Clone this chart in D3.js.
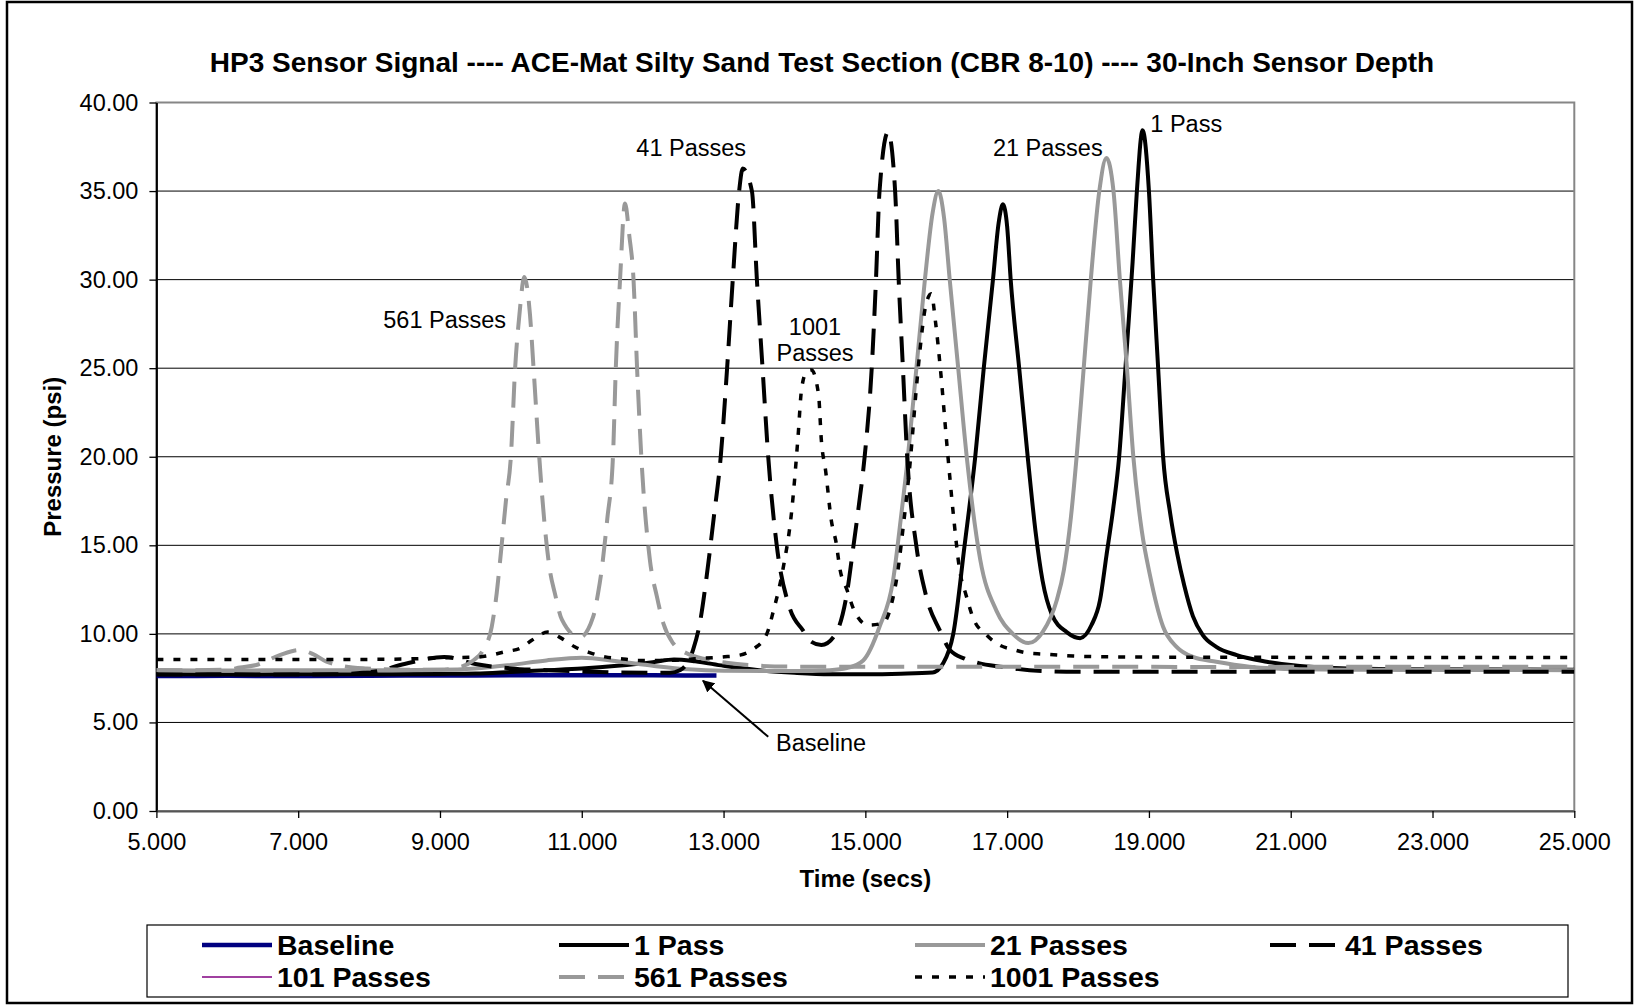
<!DOCTYPE html>
<html>
<head>
<meta charset="utf-8">
<script src="https://cdn.jsdelivr.net/npm/d3@7"></script>
<style>
  html, body { margin: 0; padding: 0; background: #fff; }
  svg { display: block; font-family: "Liberation Sans", Arial, sans-serif; }
</style>
</head>
<body>
<svg id="chart" width="1635" height="1006"></svg>
<script>
// ---------------- DATA ----------------
const chartTitle = "HP3 Sensor Signal ---- ACE-Mat Silty Sand Test Section (CBR 8-10) ---- 30-Inch Sensor Depth";
const xTitle = "Time (secs)";
const yTitle = "Pressure (psi)";
const xTicks = [5, 7, 9, 11, 13, 15, 17, 19, 21, 23, 25];
const yTicks = [0, 5, 10, 15, 20, 25, 30, 35, 40];

// [time (s), pressure (psi)]
const baseline = [[5,7.62],[6,7.63],[7,7.62],[8,7.64],[9,7.65],[10,7.66],[11,7.67],[12,7.66],[12.9,7.65]];

const pass1 = [[5,7.72],[6,7.7],[7,7.72],[8,7.72],[9,7.74],[9.5,7.76],[10,7.85],[10.5,7.95],[11,8.05],[11.5,8.2],
  [12,8.4],[12.3,8.55],[12.6,8.45],[13,8.2],[13.5,7.95],[14,7.8],[14.5,7.72],[15,7.72],[15.5,7.75],[15.95,7.82],
  [16.1,8.35],[16.24,10],[16.4,15],[16.55,20],[16.67,25],[16.8,30],[16.88,33.2],[16.94,34.25],[17.0,33.0],[17.05,30],
  [17.17,25],[17.29,20],[17.4,15.8],[17.5,13.0],[17.63,11.1],[17.84,10.1],[18.03,9.76],[18.19,10.5],[18.31,11.9],
  [18.4,14.4],[18.5,17.2],[18.58,20],[18.66,24.5],[18.72,28],[18.77,31],[18.83,35],[18.91,38.43],[19.0,35],
  [19.06,30],[19.13,25],[19.2,20],[19.3,16.8],[19.4,14.5],[19.5,12.7],[19.62,11],[19.76,9.93],[19.95,9.27],
  [20.24,8.8],[20.66,8.43],[21.13,8.18],[21.6,8.07],[22.5,8.0],[25,7.98]];

const pass21 = [[5,7.95],[6,7.93],[7,7.95],[8,7.95],[9,7.97],[9.5,8.05],[10,8.25],[10.5,8.5],[11,8.65],[11.5,8.45],
  [12,8.2],[12.5,8.0],[13,7.92],[14,7.9],[14.5,7.95],[14.74,8.07],[14.97,8.5],[15.2,10.4],[15.39,13],[15.5,16.5],
  [15.6,20],[15.72,25],[15.84,30],[15.95,33.8],[16.03,35.0],[16.11,33.5],[16.19,30],[16.31,25],[16.43,20],[16.62,14.2],
  [16.85,11.3],[17.08,10.0],[17.3,9.48],[17.5,10.1],[17.7,11.9],[17.8,13.6],[17.9,16.6],[17.98,20],[18.07,24.5],
  [18.18,30],[18.3,35],[18.4,36.87],[18.5,35],[18.59,30],[18.69,25],[18.78,20],[18.9,15.8],[19.01,13.4],[19.2,10.4],
  [19.39,9.27],[19.62,8.7],[19.95,8.43],[20.42,8.15],[21.13,8.0],[22,7.97],[25,7.95]];

const pass41 = [[5,7.7],[6,7.72],[7,7.7],[7.5,7.72],[8.06,7.86],[8.5,8.3],[9.06,8.7],[9.5,8.3],[10,8.05],[10.5,7.95],
  [11,7.88],[11.5,7.82],[12.0,7.8],[12.24,7.8],[12.39,7.96],[12.57,9.1],[12.67,10.7],[12.76,13.2],[12.86,16.5],
  [12.96,20],[13.05,25],[13.13,30],[13.22,35],[13.27,36.27],[13.4,35],[13.47,30],[13.55,25],[13.63,20],[13.75,15],
  [13.93,11.5],[14.12,10.2],[14.24,9.55],[14.38,9.37],[14.57,9.93],[14.74,12.3],[14.83,14.9],[14.9,17],[14.99,20],
  [15.09,25],[15.15,30],[15.2,35],[15.32,38.33],[15.42,35],[15.47,30],[15.53,25],[15.59,20],[15.72,14.95],
  [15.86,12.1],[16.05,10.2],[16.19,9.1],[16.4,8.6],[16.6,8.35],[16.9,8.15],[17.5,7.9],[18,7.86],[20,7.86],
  [22,7.86],[25,7.86]];

const pass101 = []; // listed in the legend, not visible in the plot

const pass561 = [[5,7.96],[5.5,7.95],[6,7.98],[6.18,8.1],[6.41,8.24],[6.74,8.8],[7.03,9.09],[7.21,8.86],[7.4,8.43],
  [7.64,8.18],[7.97,8.05],[8.5,7.98],[9.0,7.98],[9.3,8.15],[9.47,8.5],[9.61,9.1],[9.73,10.4],[9.8,12.3],[9.85,14.2],
  [9.93,17.5],[10.0,20],[10.06,25],[10.12,28],[10.19,30.15],[10.27,28],[10.32,25],[10.4,20],[10.48,16],[10.55,13.6],
  [10.62,12.3],[10.72,10.8],[10.97,9.8],[11.16,10.96],[11.23,12.3],[11.28,13.6],[11.36,16.5],[11.44,20],[11.48,25],
  [11.54,30],[11.61,34.3],[11.67,32.5],[11.73,30],[11.78,25],[11.84,20],[11.96,14.2],[12.06,12.1],[12.15,10.6],
  [12.29,9.46],[12.48,8.9],[12.76,8.56],[13.04,8.37],[13.5,8.2],[14,8.15],[16,8.15],[18,8.15],[20,8.13],[22,8.15],
  [25,8.15]];

const pass1001 = [[5,8.56],[6,8.56],[7,8.56],[8,8.56],[8.5,8.58],[9.06,8.65],[9.55,8.7],[9.93,9.0],[10.14,9.2],
  [10.3,9.65],[10.52,10.1],[10.71,9.76],[10.9,9.27],[11.12,8.93],[11.33,8.7],[11.55,8.6],[11.8,8.5],[12.2,8.5],
  [12.6,8.6],[12.99,8.7],[13.23,8.8],[13.42,9.14],[13.61,10.0],[13.7,11.25],[13.84,13.7],[13.96,16.9],[14.05,21.1],
  [14.1,23.8],[14.17,24.8],[14.24,24.9],[14.34,23.5],[14.38,20.9],[14.44,19.2],[14.52,16.4],[14.59,15.1],[14.64,13.7],
  [14.74,12.5],[14.85,11.25],[15.04,10.5],[15.25,10.6],[15.37,11.7],[15.46,13.6],[15.53,15.9],[15.63,19.6],
  [15.72,23.9],[15.77,26.0],[15.85,28.5],[15.93,29.2],[15.99,27.6],[16.06,24.9],[16.15,20.7],[16.25,16.4],
  [16.33,13.6],[16.42,12.2],[16.52,10.9],[16.71,9.93],[16.9,9.35],[17.08,9.12],[17.27,8.93],[17.5,8.86],
  [17.93,8.75],[18.5,8.7],[20,8.68],[22,8.67],[25,8.67]];

const seriesNames = ["Baseline", "1 Pass", "21 Passes", "41 Passes", "101 Passes", "561 Passes", "1001 Passes"];
const seriesData = [baseline, pass1, pass21, pass41, pass101, pass561, pass1001];

// annotations: [text, time, pressure, anchor]
const annotations = [
  ["561 Passes", 8.20, 27.26, "start"],
  ["41 Passes", 11.77, 36.98, "start"],
  ["1001", 14.29, 26.88, "middle"],
  ["Passes", 14.29, 25.38, "middle"],
  ["21 Passes", 16.80, 36.98, "start"],
  ["1 Pass", 19.02, 38.36, "start"],
  ["Baseline", 13.74, 3.37, "start"]
];
const arrowFrom = [13.63, 4.19];
const arrowTo = [12.71, 7.35];

// ---------------- STYLES ----------------
const styles = {
  "Baseline":    { color: "#000080", width: 4.5, dash: null },
  "1 Pass":      { color: "#000000", width: 4,   dash: null },
  "21 Passes":   { color: "#999999", width: 4,   dash: null },
  "41 Passes":   { color: "#000000", width: 4,   dash: "26,13" },
  "101 Passes":  { color: "#800080", width: 1.5, dash: null },
  "561 Passes":  { color: "#999999", width: 4,   dash: "26,13" },
  "1001 Passes": { color: "#000000", width: 3.5, dash: "7,10" }
};

// ---------------- LAYOUT ----------------
const svg = d3.select("#chart");
const W = 1635, H = 1006;
const plot = { left: 156.4, right: 1574.3, top: 102.5, bottom: 811 };
const txt = 23.5;

svg.append("rect").attr("x", 0).attr("y", 0).attr("width", W).attr("height", H).attr("fill", "#fff");
svg.append("rect").attr("x", 7).attr("y", 2).attr("width", 1625).attr("height", 1001)
  .attr("fill", "none").attr("stroke", "#000").attr("stroke-width", 2.5);

const x = d3.scaleLinear().domain([5, 25]).range([plot.left, plot.right]);
const y = d3.scaleLinear().domain([0, 40]).range([plot.bottom, plot.top]);

// title
svg.append("text").attr("x", 822).attr("y", 72).attr("text-anchor", "middle")
  .attr("font-size", 28).attr("font-weight", "bold").text(chartTitle);

// gridlines
svg.append("g").selectAll("line").data(yTicks.filter(v => v > 0 && v < 40)).join("line")
  .attr("x1", plot.left).attr("x2", plot.right)
  .attr("y1", d => y(d)).attr("y2", d => y(d))
  .attr("stroke", "#000").attr("stroke-width", 1);

// plot border
svg.append("rect").attr("x", plot.left).attr("y", plot.top)
  .attr("width", plot.right - plot.left).attr("height", plot.bottom - plot.top)
  .attr("fill", "none").attr("stroke", "#868686").attr("stroke-width", 2);

// axes
const yAxis = d3.axisLeft(y).tickValues(yTicks).tickFormat(d3.format(".2f")).tickSize(7).tickSizeOuter(0).tickPadding(11);
const xAxis = d3.axisBottom(x).tickValues(xTicks).tickFormat(d3.format(".3f")).tickSize(7).tickSizeOuter(0).tickPadding(15);

const gy = svg.append("g").attr("transform", `translate(${plot.left},0)`).call(yAxis);
const gx = svg.append("g").attr("transform", `translate(0,${plot.bottom})`).call(xAxis);
[gx, gy].forEach(g => {
  g.selectAll("text").attr("font-size", txt).attr("fill", "#000")
    .attr("font-family", "'Liberation Sans', Arial, sans-serif");
  g.selectAll("line").attr("stroke", "#000").attr("stroke-width", 1.3);
});
gy.select(".domain").attr("stroke", "#000").attr("stroke-width", 2);
gx.select(".domain").attr("stroke", "#555").attr("stroke-width", 2);

// axis titles
svg.append("text").attr("x", (plot.left + plot.right) / 2).attr("y", 887)
  .attr("text-anchor", "middle").attr("font-size", 24).attr("font-weight", "bold").text(xTitle);
svg.append("text").attr("transform", `translate(61,${(plot.top + plot.bottom) / 2}) rotate(-90)`)
  .attr("text-anchor", "middle").attr("font-size", 24).attr("font-weight", "bold").text(yTitle);

// clip
svg.append("clipPath").attr("id", "plotClip").append("rect")
  .attr("x", plot.left).attr("y", plot.top)
  .attr("width", plot.right - plot.left).attr("height", plot.bottom - plot.top);

const line = d3.line().x(d => x(d[0])).y(d => y(d[1])).curve(d3.curveMonotoneX);

const gLines = svg.append("g").attr("clip-path", "url(#plotClip)");
seriesNames.forEach((name, i) => {
  const s = styles[name];
  if (!seriesData[i].length) return;
  gLines.append("path").datum(seriesData[i])
    .attr("d", line).attr("fill", "none")
    .attr("stroke", s.color).attr("stroke-width", s.width)
    .attr("stroke-dasharray", s.dash).attr("stroke-linejoin", "round");
});

// annotations
svg.append("g").selectAll("text").data(annotations).join("text")
  .attr("x", d => x(d[1])).attr("y", d => y(d[2])).attr("text-anchor", d => d[3])
  .attr("font-size", txt).attr("fill", "#000").text(d => d[0]);

svg.append("defs").append("marker").attr("id", "arrowHead")
  .attr("viewBox", "0 0 10 10").attr("refX", 9).attr("refY", 5)
  .attr("markerWidth", 6).attr("markerHeight", 6).attr("orient", "auto")
  .append("path").attr("d", "M0,0 L10,5 L0,10 Z").attr("fill", "#000");
svg.append("line")
  .attr("x1", x(arrowFrom[0])).attr("y1", y(arrowFrom[1]))
  .attr("x2", x(arrowTo[0])).attr("y2", y(arrowTo[1]))
  .attr("stroke", "#000").attr("stroke-width", 2).attr("marker-end", "url(#arrowHead)");

// legend
const legend = { x: 147, y: 925, w: 1421, h: 72, colX: [202, 559, 915, 1270], rowY: [945, 977], sample: 70 };
svg.append("rect").attr("x", legend.x).attr("y", legend.y).attr("width", legend.w).attr("height", legend.h)
  .attr("fill", "#fff").attr("stroke", "#000").attr("stroke-width", 1.2);
const lg = svg.append("g").selectAll("g").data(seriesNames).join("g")
  .attr("transform", (d, i) => `translate(${legend.colX[i % 4]},${legend.rowY[Math.floor(i / 4)]})`);
lg.append("line").attr("x1", 0).attr("x2", legend.sample).attr("y1", 0).attr("y2", 0)
  .attr("stroke", d => styles[d].color).attr("stroke-width", d => styles[d].width)
  .attr("stroke-dasharray", d => styles[d].dash);
lg.append("text").attr("x", legend.sample + 5).attr("y", 0).attr("dy", "0.36em")
  .attr("font-size", 28.5).attr("font-weight", "bold").text(d => d);
</script>
</body>
</html>
